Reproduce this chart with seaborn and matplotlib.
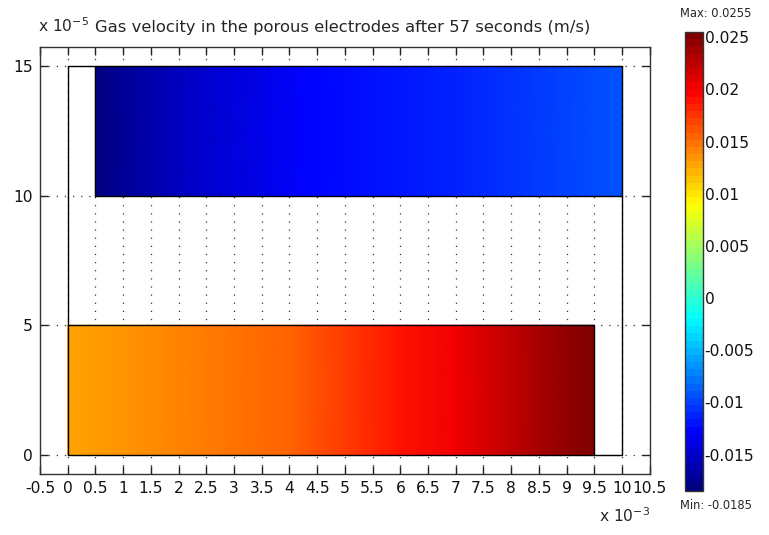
import numpy as np
import matplotlib
matplotlib.use("Agg")
import matplotlib.pyplot as plt
from matplotlib.colors import LinearSegmentedColormap
import seaborn as sns

# ---- data (x in units of 1e-3 m, y in units of 1e-5 m, velocity in m/s) ----
top_x = [0.5, 2.0, 4.3, 7.0, 10.0]
top_vel = [-0.0185, -0.0154, -0.0130, -0.0112, -0.0093]
top_y = [10, 15]

bot_x = [0.0, 2.0, 4.0, 6.0, 7.0, 8.0, 9.0, 9.5]
bot_vel = [0.0127, 0.0140, 0.0157, 0.0188, 0.0200, 0.0225, 0.0245, 0.0255]
bot_y = [0, 5]

vmin, vmax = -0.0185, 0.0255
xticks = [-0.5 + 0.5 * i for i in range(23)]
xticklabels = ["-0.5", "0", "0.5", "1", "1.5", "2", "2.5", "3", "3.5", "4", "4.5", "5",
               "5.5", "6", "6.5", "7", "7.5", "8", "8.5", "9", "9.5", "10", "10.5"]
yticks = [0, 5, 10, 15]
cbar_ticks = [-0.015, -0.01, -0.005, 0, 0.005, 0.01, 0.015, 0.02, 0.025]
cbar_labels = ["-0.015", "-0.01", "-0.005", "0", "0.005", "0.01", "0.015", "0.02", "0.025"]
title = "Gas velocity in the porous electrodes after 57 seconds (m/s)"

sns.set_style("ticks")
plt.rcParams["font.family"] = ["DejaVu Sans"]
plt.rcParams.update({
    "xtick.direction": "in", "ytick.direction": "in",
    "xtick.top": True, "xtick.bottom": True,
    "ytick.left": True, "ytick.right": True,
    "xtick.major.size": 6, "ytick.major.size": 6,
    "xtick.major.width": 1.0, "ytick.major.width": 1.0,
    "xtick.color": "#222222", "ytick.color": "#222222",
})

# MATLAB-style jet colormap (64 levels)
cmap = LinearSegmentedColormap.from_list(
    "mjet",
    [(0.0, (0, 0, 0.5)), (0.125, (0, 0, 1)), (0.375, (0, 1, 1)),
     (0.625, (1, 1, 0)), (0.875, (1, 0, 0)), (1.0, (0.5, 0, 0))], N=64)

fig = plt.figure(figsize=(7.69, 5.35), dpi=100)
ax = fig.add_axes([0.052, 0.114, 0.793, 0.798])
cax = fig.add_axes([0.891, 0.082, 0.0234, 0.858])

def patch(xs, ys, vals):
    X, Y = np.meshgrid(xs, ys)
    C = np.vstack([vals, vals])
    return ax.pcolormesh(X, Y, C, cmap=cmap, vmin=vmin, vmax=vmax,
                         shading="gouraud", zorder=2)

mesh = patch(top_x, top_y, top_vel)
patch(bot_x, bot_y, bot_vel)

# geometry outlines
lk = dict(color="black", lw=1.0, zorder=3)
ax.plot([0, 10, 10, 0, 0], [0, 0, 15, 15, 0], **lk)
ax.plot([0.5, 0.5, 10], [15, 10, 10], **lk)
ax.plot([0, 9.5, 9.5], [5, 5, 0], **lk)

fs = 11.2
ax.set_xlim(-0.5, 10.5)
ax.set_ylim(-0.75, 15.75)
ax.set_xticks(xticks)
ax.set_xticklabels(xticklabels)
ax.set_yticks(yticks)
ax.set_yticklabels([str(v) for v in yticks])
ax.tick_params(which="major", direction="in", length=6, width=1.0,
               top=True, right=True, bottom=True, left=True,
               labelsize=fs, pad=5, color="#222222", labelcolor="#111111")
ax.set_axisbelow(True)
ax.grid(True, color="#333333", linestyle=(0, (1, 5.5)), linewidth=0.9)
for s in ax.spines.values():
    s.set_color("#333333")
    s.set_linewidth(1.0)
    s.set_visible(True)

fig.text(0.050, 0.934, r"x 10$^{\mathregular{-5}}$", fontsize=fs, ha="left", va="bottom")
fig.text(0.124, 0.934, title, fontsize=11.8, ha="left", va="bottom")
fig.text(0.779, 0.018, r"x 10$^{\mathregular{-3}}$", fontsize=fs, ha="left", va="bottom")

cb = fig.colorbar(mesh, cax=cax)
cb.set_ticks(cbar_ticks)
cb.set_ticklabels(cbar_labels)
cb.ax.tick_params(direction="in", length=3, width=1.0, labelsize=fs, pad=1,
                  right=True, left=True, color="#222222", labelcolor="#111111")
cb.outline.set_linewidth(1.0)
cb.outline.set_edgecolor("#333333")
fig.text(0.884, 0.975, "Max: 0.0255", fontsize=8.3, ha="left", va="center")
fig.text(0.884, 0.055, "Min: -0.0185", fontsize=8.3, ha="left", va="center")

fig.savefig("out.png", dpi=100, facecolor="white")
